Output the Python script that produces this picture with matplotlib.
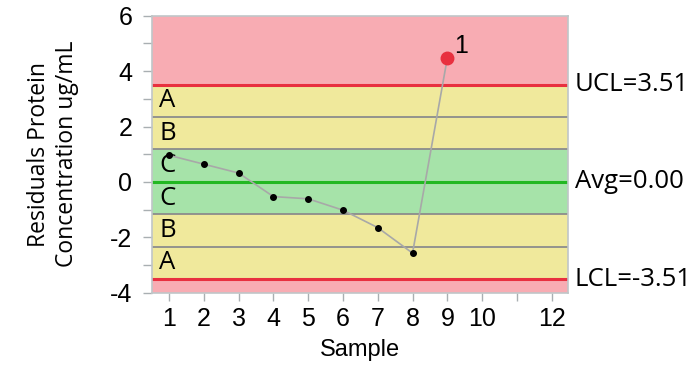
import matplotlib
matplotlib.use("Agg")
import matplotlib.pyplot as plt
from matplotlib.ticker import FixedLocator, MultipleLocator

plt.rcParams["axes.unicode_minus"] = False

samples = [1, 2, 3, 4, 5, 6, 7, 8, 9]
residuals = [0.96, 0.64, 0.32, -0.53, -0.61, -1.02, -1.65, -2.57, 4.47]
ucl = 3.51
avg = 0.00
lcl = -3.51
xticks = list(range(1, 13))
xticklabels = ["1", "2", "3", "4", "5", "6", "7", "8", "9", "10", "", "12"]
yticks = [-4, -2, 0, 2, 4, 6]
zone_letters_upper = ["A", "B", "C"]
zone_letters_lower = ["C", "B", "A"]
flagged_index = 8
flag_label = "1"

RED_BG = "#F8ACB3"
YEL_BG = "#F0E99C"
GRN_BG = "#A6E3A9"
RED_LINE = "#E8303F"
GRN_LINE = "#22B822"
ZONE_LINE = "#8C8C8C"
SPINE = "#C0C6C8"

fig = plt.figure(figsize=(6.99, 3.71), dpi=100)
ax = fig.add_axes([0.218, 0.211, 0.5946, 0.7467])

ymin, ymax = -4, 6
xmin, xmax = 0.52, 12.47
ax.set_xlim(xmin, xmax)
ax.set_ylim(ymin, ymax)

sig = (ucl - avg) / 3.0
b1u, b2u = avg + sig, avg + 2 * sig
b1l, b2l = avg - sig, avg - 2 * sig

ax.axhspan(ucl, ymax, color=RED_BG, lw=0, zorder=0)
ax.axhspan(lcl, ymin, color=RED_BG, lw=0, zorder=0)
ax.axhspan(b2u, ucl, color=YEL_BG, lw=0, zorder=0)
ax.axhspan(b1u, b2u, color=YEL_BG, lw=0, zorder=0)
ax.axhspan(lcl, b2l, color=YEL_BG, lw=0, zorder=0)
ax.axhspan(b2l, b1l, color=YEL_BG, lw=0, zorder=0)
ax.axhspan(b1l, b1u, color=GRN_BG, lw=0, zorder=0)

for b in (b1u, b2u, b1l, b2l):
    ax.axhline(b, color=ZONE_LINE, lw=1.3, zorder=1)
ax.axhline(ucl, color=RED_LINE, lw=2.2, zorder=1)
ax.axhline(lcl, color=RED_LINE, lw=2.2, zorder=1)
ax.axhline(avg, color=GRN_LINE, lw=2.2, zorder=1)

lab_font = ["Open Sans", "DejaVu Sans"]
num_font = ["Liberation Sans", "DejaVu Sans"]
# zone letters
uppers = [(b2u + ucl) / 2, (b1u + b2u) / 2, (avg + b1u) / 2]
lowers = [(b1l + avg) / 2, (b2l + b1l) / 2, (lcl + b2l) / 2]
for letter, yv in zip(zone_letters_upper + zone_letters_lower, uppers + lowers):
    ax.text(0.016, yv, letter, transform=ax.get_yaxis_transform(), ha="left",
            va="center", fontsize=18.5, family=lab_font, color="black", zorder=2)

ax.plot(samples, residuals, color="#A8A8A8", lw=1.2, zorder=3)
normal_x = [s for i, s in enumerate(samples) if i != flagged_index]
normal_y = [r for i, r in enumerate(residuals) if i != flagged_index]
ax.plot(normal_x, normal_y, "o", color="black", ms=4, zorder=4)
ax.plot(samples[flagged_index], residuals[flagged_index], "o", color=RED_LINE,
        ms=9, zorder=4)
ax.annotate(flag_label, (samples[flagged_index], residuals[flagged_index]),
            xytext=(5, 0), textcoords="offset points", fontsize=18,
            family=num_font, va="bottom", ha="left")

# right labels
for txt, yv in ((f"UCL={ucl:.2f}", ucl), (f"Avg={avg:.2f}", avg), (f"LCL={lcl:.2f}", lcl)):
    ax.text(1.016, yv, txt, transform=ax.get_yaxis_transform(), ha="left",
            va="center", fontsize=18.5, family=lab_font, clip_on=False)

ax.set_xticks(xticks)
ax.set_xticklabels(xticklabels)
ax.yaxis.set_major_locator(FixedLocator(yticks))
ax.yaxis.set_minor_locator(MultipleLocator(1))
ax.tick_params(axis="x", which="both", color="#A9AFB2", length=6, width=1,
               labelsize=18, pad=4)
ax.tick_params(axis="y", which="both", color="#A9AFB2", length=6.5, width=1,
               labelsize=18, pad=8)
for lbl in ax.get_xticklabels() + ax.get_yticklabels():
    lbl.set_family(num_font)

for s in ax.spines.values():
    s.set_color(SPINE)
    s.set_linewidth(1.2)

ax.set_xlabel("Sample", fontsize=17, family=num_font, labelpad=6)
ax.set_ylabel("Residuals Protein\nConcentration ug/mL", fontsize=16.5, family=lab_font,
              labelpad=22, linespacing=1.25)

fig.savefig("out.png", dpi=100)
